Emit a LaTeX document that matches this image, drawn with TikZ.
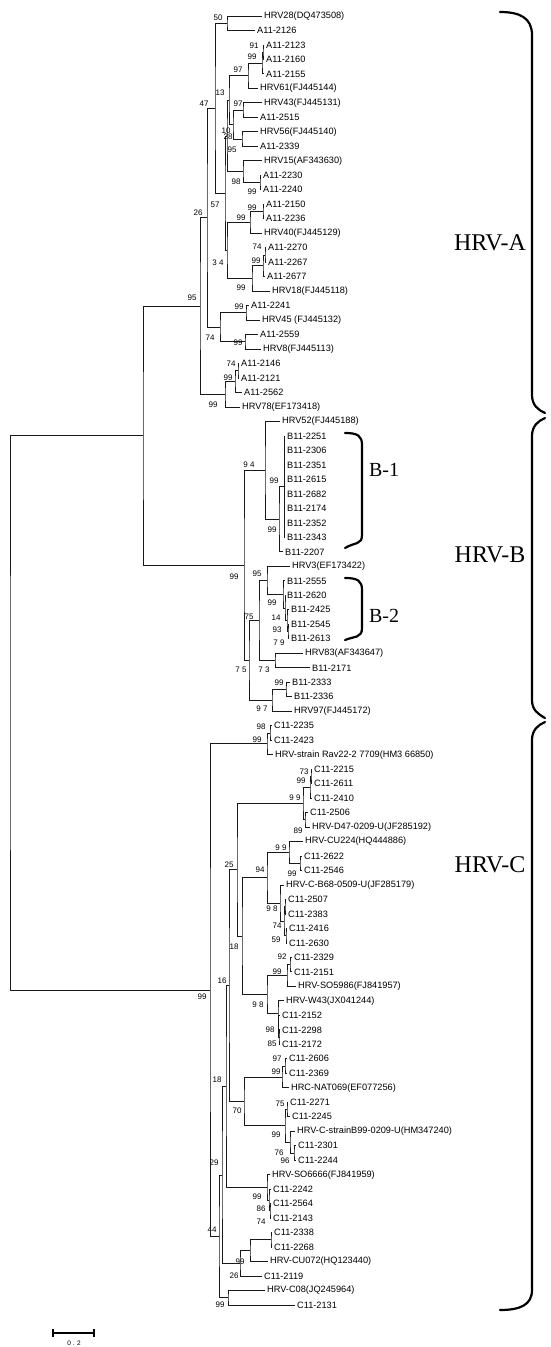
\documentclass[tikz,border=0pt]{standalone}
\usepackage{fontspec}
\setmainfont{Liberation Sans}
\newfontfamily\serifA{Liberation Serif}
\usetikzlibrary{calc}
\tikzset{
 br/.style={line width=0.85pt, draw=black!90},
 leaflab/.style={anchor=west, inner sep=0pt, xshift=2pt, font=\fontsize{9.2}{10}\selectfont},
 bs/.style={inner sep=0pt, font=\fontsize{8}{8}\selectfont},
 grp/.style={font=\serifA\fontsize{24}{24}\selectfont, inner sep=0pt},
 sub/.style={font=\serifA\fontsize{20}{20}\selectfont, inner sep=0pt},
 bracestyle/.style={line width=2.2pt, line cap=round},
}
\newcommand\leaf[4]{\coordinate (#1) at (#2,#3); \node[leaflab] (#1-t) at (#1) {#4};}
\newcommand\jnode[4]{%
  \coordinate (#1-m) at ($(#3)!.5!(#4)$);
  \coordinate (#1) at (#2,0 |- #1-m);
  \draw[br] (#3) -| (#1) |- (#4);}
\newcommand\inode[6]{%
  \jnode{#1}{#2}{#3}{#4}
  \node[bs] (#1-b) at #6 {#5};}
\begin{document}
\begin{tikzpicture}[x=1pt,y=-1pt]
\useasboundingbox (0,0) rectangle (550,1347);
% ---------------- leaves HRV-A
\leaf{L1}{262}{16.0}{HRV28(DQ473508)}
\leaf{L2}{255}{30.5}{A11-2126}
\leaf{L3}{264}{45.0}{A11-2123}
\leaf{L4}{264}{59.4}{A11-2160}
\leaf{L5}{264}{73.9}{A11-2155}
\leaf{L6}{258}{88.4}{HRV61(FJ445144)}
\leaf{L7}{262}{102.9}{HRV43(FJ445131)}
\leaf{L8}{258}{117.4}{A11-2515}
\leaf{L9}{258}{131.9}{HRV56(FJ445140)}
\leaf{L10}{258}{146.3}{A11-2339}
\leaf{L11}{262}{160.8}{HRV15(AF343630)}
\leaf{L12}{261}{175.3}{A11-2230}
\leaf{L13}{261}{189.8}{A11-2240}
\leaf{L14}{264}{204.3}{A11-2150}
\leaf{L15}{264}{218.8}{A11-2236}
\leaf{L16}{262}{233.2}{HRV40(FJ445129)}
\leaf{L17}{266}{247.7}{A11-2270}
\leaf{L18}{266}{262.2}{A11-2267}
\leaf{L19}{265}{276.7}{A11-2677}
\leaf{L20}{270}{291.2}{HRV18(FJ445118)}
\leaf{L21}{249}{305.7}{A11-2241}
\leaf{L22}{260}{320.1}{HRV45 (FJ445132)}
\leaf{L23}{258}{334.6}{A11-2559}
\leaf{L24}{261}{349.1}{HRV8(FJ445113)}
\leaf{L25}{239}{363.6}{A11-2146}
\leaf{L26}{239}{378.1}{A11-2121}
\leaf{L27}{242}{392.6}{A11-2562}
\leaf{L28}{240}{407.0}{HRV78(EF173418)}
% ---------------- leaves HRV-B
\leaf{L29}{280}{421.5}{HRV52(FJ445188)}
\leaf{L30}{285}{436.0}{B11-2251}
\leaf{L31}{285}{450.5}{B11-2306}
\leaf{L32}{285}{465.0}{B11-2351}
\leaf{L33}{285}{479.5}{B11-2615}
\leaf{L34}{285}{494.0}{B11-2682}
\leaf{L35}{285}{508.4}{B11-2174}
\leaf{L36}{285}{522.9}{B11-2352}
\leaf{L37}{285}{537.4}{B11-2343}
\leaf{L38}{283}{551.9}{B11-2207}
\leaf{L39}{290}{566.4}{HRV3(EF173422)}
\leaf{L40}{285}{580.9}{B11-2555}
\leaf{L41}{285}{595.3}{B11-2620}
\leaf{L42}{289}{609.8}{B11-2425}
\leaf{L43}{289}{624.3}{B11-2545}
\leaf{L44}{289}{638.8}{B11-2613}
\leaf{L45}{303}{653.3}{HRV83(AF343647)}
\leaf{L46}{310}{667.8}{B11-2171}
\leaf{L47}{290}{682.3}{B11-2333}
\leaf{L48}{292}{696.7}{B11-2336}
\leaf{L49}{292}{711.2}{HRV97(FJ445172)}
% ---------------- leaves HRV-C
\leaf{L50}{272}{725.7}{C11-2235}
\leaf{L51}{272}{740.2}{C11-2423}
\leaf{L52}{273}{754.7}{HRV-strain Rav22-2 7709(HM3 66850)}
\leaf{L53}{312}{769.2}{C11-2215}
\leaf{L54}{312}{783.6}{C11-2611}
\leaf{L55}{312}{798.1}{C11-2410}
\leaf{L56}{308}{812.6}{C11-2506}
\leaf{L57}{310}{827.1}{HRV-D47-0209-U(JF285192)}
\leaf{L58}{303}{841.6}{HRV-CU224(HQ444886)}
\leaf{L59}{302}{856.1}{C11-2622}
\leaf{L60}{302}{870.5}{C11-2546}
\leaf{L61}{284}{885.0}{HRV-C-B68-0509-U(JF285179)}
\leaf{L62}{286}{899.5}{C11-2507}
\leaf{L63}{286}{914.0}{C11-2383}
\leaf{L64}{287}{928.5}{C11-2416}
\leaf{L65}{287}{943.0}{C11-2630}
\leaf{L66}{292}{957.4}{C11-2329}
\leaf{L67}{292}{971.9}{C11-2151}
\leaf{L68}{296}{986.4}{HRV-SO5986(FJ841957)}
\leaf{L69}{284}{1000.9}{HRV-W43(JX041244)}
\leaf{L70}{280}{1015.4}{C11-2152}
\leaf{L71}{280}{1029.9}{C11-2298}
\leaf{L72}{280}{1044.3}{C11-2172}
\leaf{L73}{287}{1058.8}{C11-2606}
\leaf{L74}{287}{1073.3}{C11-2369}
\leaf{L75}{289}{1087.8}{HRC-NAT069(EF077256)}
\leaf{L76}{288}{1102.3}{C11-2271}
\leaf{L77}{290}{1116.8}{C11-2245}
\leaf{L78}{295}{1131.2}{HRV-C-strainB99-0209-U(HM347240)}
\leaf{L79}{296}{1145.7}{C11-2301}
\leaf{L80}{296}{1160.2}{C11-2244}
\leaf{L81}{270}{1174.7}{HRV-SO6666(FJ841959)}
\leaf{L82}{271}{1189.2}{C11-2242}
\leaf{L83}{271}{1203.7}{C11-2564}
\leaf{L84}{271}{1218.1}{C11-2143}
\leaf{L85}{272}{1232.6}{C11-2338}
\leaf{L86}{272}{1247.1}{C11-2268}
\leaf{L87}{268}{1261.6}{HRV-CU072(HQ123440)}
\leaf{L88}{262}{1276.1}{C11-2119}
\leaf{L89}{265}{1290.6}{HRV-C08(JQ245964)}
\leaf{L90}{295}{1305.0}{C11-2131}
% ---------------- internal nodes HRV-A
\inode{a50}{227}{L1}{L2}{50}{(218,18)}
\inode{a91}{263}{L3}{L4}{91}{(254,46)}
\inode{a99a}{262}{a91}{L5}{99}{(252,57)}
\inode{a97a}{248}{a99a}{L6}{97}{(238,70)}
\inode{a97b}{243}{L7}{L8}{97}{(238,104)}
\inode{a95}{242}{L9}{L10}{95}{(232,150)}
\inode{a28}{233}{a97b}{a95}{28}{(228,137)}
\inode{a13}{229}{a97a}{a28}{13}{(220,93)}
\inode{a99b}{260}{L12}{L13}{99}{(252,192)}
\inode{a98}{243}{L11}{a99b}{98}{(236,182)}
\inode{a10}{227}{a13}{a98}{10}{(226,131)}
\inode{a99c}{263}{L14}{L15}{99}{(252,208)}
\inode{a99d}{250}{a99c}{L16}{99}{(241,218)}
\inode{a74a}{265}{L17}{L18}{74}{(257,247)}
\inode{a99e}{263}{a74a}{L19}{99}{(256,261)}
\inode{a99f}{252}{a99e}{L20}{99}{(241,288)}
\inode{a34}{227}{a99d}{a99f}{3 4}{(218,263)}
\inode{a57}{225}{a10}{a34}{57}{(215,205)}
\inode{a47}{215}{a50}{a57}{47}{(204,104)}
\inode{a99g}{246}{L21}{L22}{99}{(239,307)}
\inode{a99h}{245}{L23}{L24}{99}{(238,343)}
\inode{a74b}{220}{a99g}{a99h}{74}{(210,338)}
\inode{a26}{207}{a47}{a74b}{26}{(198,213)}
\inode{a74c}{238}{L25}{L26}{74}{(231,364)}
\inode{a99i}{235}{a74c}{L27}{99}{(228,378)}
\inode{a99j}{225}{a99i}{L28}{99}{(213,405)}
\inode{aA}{200}{a26}{a99j}{95}{(192,298)}
% ---------------- internal nodes HRV-B
\inode{bP}{284}{L30}{L37}{99}{(274,481)}
\foreach \c in {31,...,36} {\draw[br] (bP) |- (L\c);}
\inode{b99a}{279}{bP}{L38}{99}{(272,530)}
\inode{b94}{265}{L29}{b99a}{9 4}{(249,465)}
\inode{b79}{288}{L43}{L44}{7 9}{(279,643)}
\inode{b93}{287}{L42}{b79}{93}{(277,630)}
\inode{b14}{285}{L41}{b93}{14}{(276,618)}
\inode{b99b}{283}{L40}{b14}{99}{(272,603)}
\inode{b95}{267}{L39}{b99b}{95}{(257,574)}
\inode{b73}{275}{L45}{L46}{7 3}{(264,670)}
\inode{b75a}{259}{b95}{b73}{75}{(249,617)}
\inode{b99c}{286}{L47}{L48}{99}{(279,683)}
\inode{b97}{272}{b99c}{L49}{9 7}{(262,709)}
\inode{b75b}{249}{b75a}{b97}{7 5}{(241,670)}
\inode{bB}{244}{b94}{b75b}{99}{(234,577)}
\jnode{nAB}{143}{aA}{bB}
% ---------------- internal nodes HRV-C
\inode{c98a}{270}{L50}{L51}{98}{(261,727)}
\inode{c99a}{267}{c98a}{L52}{99}{(257,740)}
\inode{c73}{311}{L53}{L54}{73}{(304,772)}
\inode{c99b}{310}{c73}{L55}{99}{(301,781)}
\inode{c89}{305}{L56}{L57}{89}{(298,831)}
\inode{c99c}{303}{c99b}{c89}{9 9}{(295,798)}
\inode{c99d}{300}{L59}{L60}{99}{(292,874)}
\inode{c99e}{289}{L58}{c99d}{9 9}{(281,848)}
\jnode{c2507}{285}{L62}{L63}
\inode{c59}{286}{L64}{L65}{59}{(276,940)}
\inode{c74}{284}{c2507}{c59}{74}{(277,926)}
\inode{c98b}{280}{L61}{c74}{9 8}{(272,909)}
\inode{c94}{267}{c99e}{c98b}{94}{(260,870)}
\inode{c92}{290}{L66}{L67}{92}{(282,957)}
\inode{c99f}{287}{c92}{L68}{99}{(277,972)}
\inode{c85}{279}{L71}{L72}{85}{(272,1044)}
\inode{c98c}{278.5}{L70}{c85}{98}{(270,1030)}
\jnode{c98x}{278}{L69}{c98c}
\inode{c98w}{267}{c99f}{c98x}{9 8}{(258,1005)}
\inode{c18a}{242}{c94}{c98w}{18}{(234,947)}
\inode{c25}{237}{c99c}{c18a}{25}{(229,865)}
\inode{c97}{285}{L73}{L74}{97}{(277,1059)}
\inode{c99g}{282}{c97}{L75}{99}{(276,1072)}
\inode{c75}{287}{L76}{L77}{75}{(280,1104)}
\inode{c96}{294}{L79}{L80}{96}{(285,1161)}
\inode{c76}{290}{L78}{c96}{76}{(279,1153)}
\inode{c99h}{285}{c75}{c76}{99}{(276,1135)}
\inode{c70}{244}{c99g}{c99h}{70}{(237,1111)}
\inode{c16}{229}{c25}{c70}{16}{(222,981)}
\inode{c74s}{270}{L83}{L84}{74}{(261,1222)}
\inode{c86}{269}{L82}{c74s}{86}{(261,1209)}
\inode{c99s}{267}{L81}{c86}{99}{(257,1197)}
\inode{c18b}{226}{c16}{c99s}{18}{(217,1080)}
\jnode{cQ}{271}{L85}{L86}
\inode{c99r}{250}{cQ}{L87}{99}{(240,1262)}
\inode{c26}{240}{c99r}{L88}{26}{(234,1276)}
\inode{c29}{222}{c18b}{c26}{29}{(214,1163)}
\inode{c99z}{228}{L89}{L90}{99}{(220,1305)}
\inode{c44}{219}{c29}{c99z}{44}{(212,1230)}
\inode{nC}{210}{c99a}{c44}{99}{(202,997)}
\jnode{root}{10}{nAB}{nC}
% ---------------- brackets and group labels
\coordinate (b1t) at (345,433); \coordinate (b1b) at (345,548);
\draw[bracestyle] (b1t) .. controls (358,433) and (362,436) .. (362,445) -- (362,535) .. controls (362,545) and (355,542) .. (b1b);
\node[sub] (B1) at (384,470) {B-1};
\coordinate (b2t) at (345,578); \coordinate (b2b) at (345,640);
\draw[bracestyle] (b2t) .. controls (358,578) and (362,581) .. (362,590) -- (362,628) .. controls (362,638) and (355,636) .. (b2b);
\node[sub] (B2) at (384,616) {B-2};
\coordinate (bAt) at (500,12); \coordinate (bAb) at (545,413);
\draw[bracestyle] (bAt) .. controls (520,12) and (532,18) .. (532,35) -- (532,395) .. controls (532,405) and (538,410) .. (bAb);
\coordinate (bBt) at (545,418); \coordinate (bBb) at (545,718);
\draw[bracestyle] (bBt) .. controls (538,421) and (532,426) .. (532,436) -- (532,700) .. controls (532,710) and (538,714) .. (bBb);
\coordinate (bCt) at (545,722); \coordinate (bCb) at (500,1310);
\draw[bracestyle] (bCt) .. controls (538,725) and (532,730) .. (532,740) -- (532,1290) .. controls (532,1305) and (520,1310) .. (bCb);
\node[grp] (GA) at (490,243) {HRV-A};
\node[grp] (GB) at (490,555) {HRV-B};
\node[grp] (GC) at (490,865) {HRV-C};
% ---------------- scale bar
\coordinate (s1) at (53,1333); \coordinate (s2) at (94,1333);
\draw[line width=1.8pt] (s1) -- (s2);
\draw[line width=1.5pt] ($(s1)+(0,-4)$) -- ($(s1)+(0,4)$);
\draw[line width=1.5pt] ($(s2)+(0,-4)$) -- ($(s2)+(0,4)$);
\node[bs, font=\fontsize{6.5}{7}\selectfont] (slab) at (74,1343) {0 . 2};
\end{tikzpicture}
\end{document}
